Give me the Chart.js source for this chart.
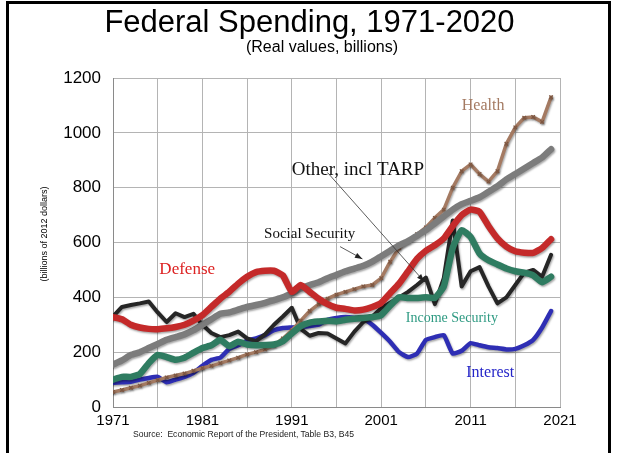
<!DOCTYPE html>
<html>
<head>
<meta charset="utf-8">
<script src="https://cdn.jsdelivr.net/npm/chart.js@4.4.0/dist/chart.umd.min.js"></script>
<style>
  body { margin: 0; background: #fff; }
  #wrap { position: relative; width: 619px; height: 453px; overflow: hidden; font-family: "Liberation Sans", Arial, sans-serif; }
  #frame { position: absolute; left: 6px; top: 1px; width: 605px; height: 520px; border: 3px solid #000; box-sizing: border-box; }
  canvas { position: absolute; left: 0; top: 0; }
  .txt { position: absolute; white-space: nowrap; color: #000; }
</style>
</head>
<body>
<div id="wrap">
  <div id="frame"></div>
  <canvas id="c" width="619" height="453"></canvas>
  <div class="txt" style="left:0;width:619px;text-align:center;top:4px;font-size:31px;">Federal Spending, 1971-2020</div>
  <div class="txt" style="left:0;width:644px;text-align:center;top:38px;font-size:16px;">(Real values, billions)</div>
  <div class="txt" style="left:-6px;top:229px;font-size:9px;width:100px;text-align:center;transform:rotate(-90deg);">(billions of 2012 dollars)</div>
  <div class="txt" style="left:133px;top:429px;font-size:8.6px;color:#222;">Source:&nbsp; Economic Report of the President, Table B3, B45</div>
</div>
<script>
// fiscal years on the x axis
var years = [1971, 1972, 1973, 1974, 1975, 1976, 1977, 1978, 1979, 1980,
  1981, 1982, 1983, 1984, 1985, 1986, 1987, 1988, 1989, 1990,
  1991, 1992, 1993, 1994, 1995, 1996, 1997, 1998, 1999, 2000,
  2001, 2002, 2003, 2004, 2005, 2006, 2007, 2008, 2009, 2010,
  2011, 2012, 2013, 2014, 2015, 2016, 2017, 2018, 2019, 2020];

// billions of 2012 dollars
var interest = [88, 90, 92, 100, 106, 110, 90, 100, 110, 125,
  150, 172, 180, 212, 225, 242, 250, 262, 280, 288,
  290, 292, 295, 300, 318, 325, 328, 326, 322, 300,
  270, 238, 200, 182, 195, 245, 255, 262, 195, 205,
  233, 225, 218, 215, 210, 212, 225, 245, 290, 350];

var other = [330, 365, 372, 378, 385, 345, 310, 342, 328, 340,
  300, 270, 255, 262, 275, 250, 240, 265, 300, 330,
  362, 285, 260, 270, 268, 250, 232, 275, 310, 330,
  360, 380, 400, 420, 445, 472, 375, 470, 680, 440,
  495, 510, 440, 378, 400, 445, 490, 500, 475, 555];

var health = [55, 62, 70, 78, 88, 98, 108, 115, 122, 132,
  142, 150, 160, 170, 180, 192, 200, 210, 225, 250,
  280, 315, 350, 375, 395, 410, 420, 430, 440, 445,
  470, 530, 580, 605, 630, 655, 690, 720, 800, 860,
  885, 850, 822, 860, 960, 1020, 1055, 1058, 1040, 1130];

var incomeSecurity = [100, 110, 110, 120, 160, 190, 182, 172, 180, 198,
  215, 225, 245, 222, 238, 228, 225, 226, 228, 240,
  268, 295, 308, 312, 315, 312, 318, 322, 325, 328,
  335, 370, 400, 398, 398, 400, 398, 440, 580, 645,
  620, 560, 535, 520, 505, 495, 490, 480, 455, 475];

var socialSecurity = [155, 170, 190, 200, 215, 230, 245, 255, 265, 280,
  300, 320, 340, 345, 355, 365, 372, 380, 390, 400,
  415, 432, 445, 455, 470, 482, 495, 505, 515, 530,
  550, 570, 590, 605, 625, 645, 670, 695, 720, 740,
  752, 765, 785, 805, 830, 850, 870, 890, 910, 940];

var defense = [328, 320, 300, 290, 285, 284, 287, 292, 300, 315,
  335, 365, 395, 420, 450, 475, 492, 497, 497, 480,
  420, 445, 420, 395, 375, 362, 358, 352, 355, 365,
  380, 415, 450, 495, 540, 570, 590, 615, 660, 700,
  720, 712, 660, 615, 585, 568, 563, 562, 580, 612];

var yTicks = [0, 200, 400, 600, 800, 1000, 1200];
var xLabels = [1971, 1981, 1991, 2001, 2011, 2021];

function pts(values) {
  return years.map(function (y, i) { return { x: y, y: values[i] }; });
}

function line(label, values, color, width) {
  return {
    label: label,
    data: pts(values),
    borderColor: color,
    backgroundColor: color,
    borderWidth: width,
    pointRadius: 0,
    tension: 0.15,
    borderCapStyle: 'round',
    borderJoinStyle: 'round'
  };
}

var healthSet = line('Health', health, '#a47a62', 3.5);
healthSet.pointRadius = 2.5;
healthSet.pointStyle = 'crossRot';
healthSet.pointBorderWidth = 1.2;
healthSet.pointBorderColor = '#7d5640';
healthSet.tension = 0;

var otherSet = line('Other, incl TARP', other, '#262626', 4);
otherSet.tension = 0;

var datasets = [
  line('Interest', interest, '#2e2eb4', 4.5),
  otherSet,
  healthSet,
  line('Income Security', incomeSecurity, '#2f7c61', 6.5),
  line('Social Security', socialSecurity, '#7c7c7c', 6.5),
  line('Defense', defense, '#c42a2a', 6.5)
];
datasets.reverse(); // first dataset is drawn on top

// labels and arrows placed in data units
var notes = [
  { text: 'Health', x: 2012.4, y: 1100, size: 16, color: '#a47a62' },
  { text: 'Other, incl TARP', x: 1998.4, y: 866, size: 19, color: '#111' },
  { text: 'Social Security', x: 1993.0, y: 632, size: 15, color: '#111' },
  { text: 'Defense', x: 1979.3, y: 500, size: 17, color: '#dd2222' },
  { text: 'Income Security', x: 2008.9, y: 325, size: 14, color: '#2e9a82' },
  { text: 'Interest', x: 2013.2, y: 124, size: 16, color: '#2525c8' }
];
var arrows = [
  { x1: 1995.0, y1: 855, x2: 2005.8, y2: 458 },
  { x1: 1996.4, y1: 585, x2: 1998.9, y2: 540 }
];

var annotate = {
  id: 'annotate',
  beforeDatasetsDraw: function (chart) {
    chart.ctx.save();
    chart.ctx.shadowColor = 'rgba(0,0,0,0.35)';
    chart.ctx.shadowOffsetX = 1;
    chart.ctx.shadowOffsetY = 1.5;
    chart.ctx.shadowBlur = 2;
  },
  afterDatasetsDraw: function (chart) {
    var ctx = chart.ctx;
    ctx.restore();
    var sx = chart.scales.x, sy = chart.scales.y;
    ctx.save();
    arrows.forEach(function (a) {
      var x1 = sx.getPixelForValue(a.x1), y1 = sy.getPixelForValue(a.y1);
      var x2 = sx.getPixelForValue(a.x2), y2 = sy.getPixelForValue(a.y2);
      ctx.strokeStyle = '#333';
      ctx.lineWidth = 0.8;
      ctx.beginPath();
      ctx.moveTo(x1, y1);
      ctx.lineTo(x2, y2);
      ctx.stroke();
      var ang = Math.atan2(y2 - y1, x2 - x1);
      ctx.fillStyle = '#222';
      ctx.beginPath();
      ctx.moveTo(x2, y2);
      ctx.lineTo(x2 - 8 * Math.cos(ang - 0.35), y2 - 8 * Math.sin(ang - 0.35));
      ctx.lineTo(x2 - 8 * Math.cos(ang + 0.35), y2 - 8 * Math.sin(ang + 0.35));
      ctx.closePath();
      ctx.fill();
    });
    notes.forEach(function (n) {
      ctx.font = n.size + 'px "Liberation Serif", "Times New Roman", serif';
      ctx.fillStyle = n.color;
      ctx.textAlign = 'center';
      ctx.textBaseline = 'middle';
      ctx.fillText(n.text, sx.getPixelForValue(n.x), sy.getPixelForValue(n.y));
    });
    ctx.restore();
  }
};

new Chart(document.getElementById('c'), {
  type: 'line',
  data: { datasets: datasets },
  options: {
    responsive: false,
    animation: false,
    layout: { padding: { top: 78, right: 59, left: 0, bottom: 0 } },
    plugins: { legend: { display: false }, tooltip: { enabled: false } },
    scales: {
      x: {
        type: 'linear',
        min: 1971,
        max: 2021,
        afterFit: function (s) { s.height = 46; },
        afterBuildTicks: function (s) {
          var t = [];
          for (var v = 1971; v <= 2021; v += 5) t.push({ value: v });
          s.ticks = t;
        },
        ticks: {
          autoSkip: false,
          maxRotation: 0,
          padding: 5,
          color: '#000',
          font: { family: '"Liberation Sans", Arial, sans-serif', size: 15 },
          callback: function (v) { return xLabels.indexOf(v) >= 0 ? String(v) : ''; }
        },
        grid: { color: '#b4b4b4', drawTicks: false, lineWidth: 1 },
        border: { color: '#8a8a8a' }
      },
      y: {
        min: 0,
        max: 1200,
        afterFit: function (s) { s.width = 113; },
        afterBuildTicks: function (s) {
          s.ticks = yTicks.map(function (v) { return { value: v }; });
        },
        ticks: {
          padding: 12,
          color: '#000',
          font: { family: '"Liberation Sans", Arial, sans-serif', size: 17 },
          callback: function (v) { return String(v); }
        },
        grid: { color: '#b4b4b4', drawTicks: false, lineWidth: 1 },
        border: { color: '#8a8a8a' }
      }
    }
  },
  plugins: [annotate]
});
</script>
</body>
</html>
